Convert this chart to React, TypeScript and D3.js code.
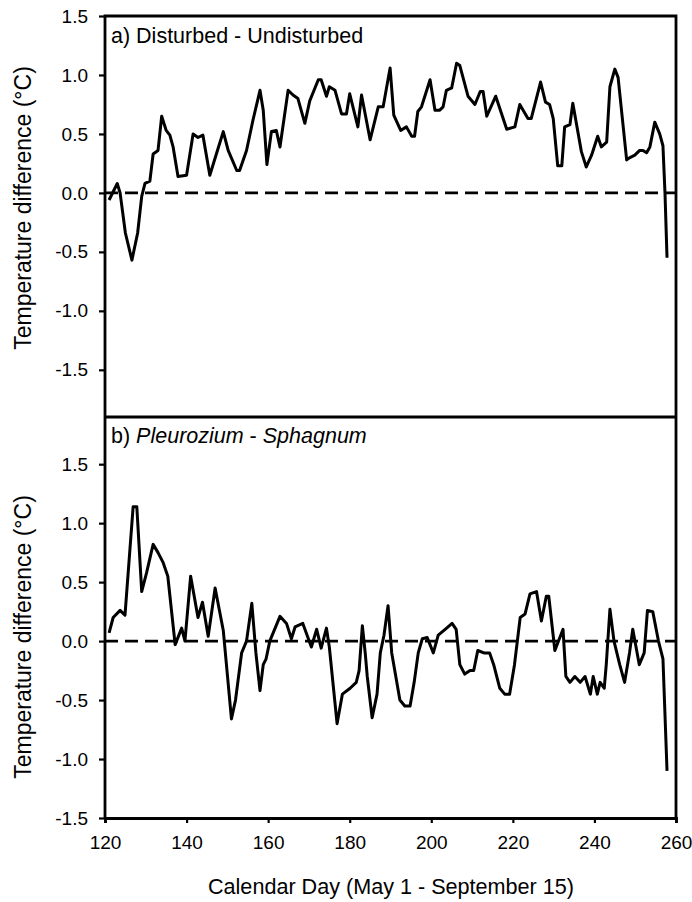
import { useEffect, useRef } from 'react'
import * as d3 from 'd3'

// Panel a) Disturbed - Undisturbed
const daysA = [121, 123, 123.7, 125, 126.6, 128, 129, 129.8, 131, 131.8, 133, 133.9, 135, 135.9, 136.7, 137.9, 140, 141.6, 142.8, 144, 145.7, 147.4, 149, 150.2, 152.3, 153, 154.7, 156.3, 158, 158.8, 159.7, 160.8, 162, 162.9, 164.9, 166.1, 167.3, 169, 170.2, 172.3, 173, 174.3, 175, 176.4, 178, 179.2, 180, 182, 182.9, 185, 187, 188.2, 189.9, 190.8, 192.5, 193.9, 195.2, 195.9, 196.7, 197.6, 199.7, 200.9, 202, 202.9, 203.7, 205, 206.2, 207, 209, 210.7, 212, 212.7, 213.6, 215.8, 218.5, 220.5, 221.7, 223.7, 224.5, 226.8, 228, 229, 229.9, 231, 232, 232.7, 234, 234.7, 236.8, 238, 239.3, 240.8, 241.7, 243, 243.8, 245, 245.8, 247.9, 248.7, 249.9, 251.1, 251.9, 252.8, 253.6, 254.8, 256, 256.8, 257.3, 257.8]
const diffA = [-0.06, 0.08, 0.0, -0.34, -0.57, -0.34, -0.03, 0.08, 0.1, 0.33, 0.36, 0.65, 0.53, 0.49, 0.39, 0.14, 0.15, 0.5, 0.47, 0.49, 0.15, 0.34, 0.52, 0.36, 0.19, 0.19, 0.36, 0.62, 0.87, 0.7, 0.24, 0.52, 0.53, 0.39, 0.87, 0.83, 0.8, 0.59, 0.78, 0.96, 0.96, 0.82, 0.9, 0.87, 0.67, 0.67, 0.84, 0.56, 0.83, 0.45, 0.73, 0.73, 1.06, 0.66, 0.53, 0.56, 0.48, 0.48, 0.69, 0.73, 0.96, 0.7, 0.7, 0.73, 0.87, 0.89, 1.1, 1.08, 0.82, 0.75, 0.86, 0.86, 0.65, 0.82, 0.54, 0.56, 0.75, 0.63, 0.63, 0.94, 0.77, 0.75, 0.63, 0.23, 0.23, 0.56, 0.58, 0.76, 0.35, 0.22, 0.32, 0.48, 0.39, 0.43, 0.9, 1.05, 0.98, 0.28, 0.3, 0.32, 0.36, 0.36, 0.34, 0.39, 0.6, 0.5, 0.4, 0.0, -0.55]

// Panel b) Pleurozium - Sphagnum
const daysB = [121, 122, 123.7, 124.9, 126.9, 127.8, 129, 130.2, 131.8, 133, 134.2, 135.4, 137.2, 138.8, 139.6, 141, 142.8, 143.9, 145.3, 147, 149, 151, 152, 153.5, 154.7, 156, 157, 158, 158.8, 159.5, 160.4, 162.9, 164.5, 165.7, 166.6, 168.5, 170.6, 171.9, 173, 174.3, 175, 176.9, 178.2, 180.1, 181.6, 182.3, 183.1, 183.8, 184.3, 185.5, 186.7, 187.5, 188.4, 189.4, 190.3, 192.3, 193.5, 194.8, 195.8, 196.8, 197.8, 199, 200.5, 201.7, 203.4, 205.1, 206.1, 207, 208.2, 209.5, 210.4, 211.4, 212.9, 214.3, 215.3, 216.8, 218, 219.2, 220.4, 221.8, 223, 224.2, 225.8, 227, 228.2, 228.8, 230.3, 232.3, 233, 234, 235.2, 236.5, 237.7, 239, 239.7, 240.7, 241.4, 242.4, 242.9, 243.8, 244.8, 246.2, 247.4, 248.6, 249.4, 251, 252.2, 253, 254.3, 255.7, 256.8, 257.8]
const diffB = [0.07, 0.2, 0.26, 0.22, 1.14, 1.14, 0.42, 0.58, 0.82, 0.75, 0.67, 0.55, -0.03, 0.11, 0.0, 0.55, 0.2, 0.33, 0.04, 0.45, 0.09, -0.66, -0.5, -0.1, 0.0, 0.32, -0.1, -0.42, -0.2, -0.15, 0.0, 0.21, 0.15, 0.02, 0.12, 0.15, -0.05, 0.1, -0.06, 0.11, -0.05, -0.7, -0.45, -0.4, -0.35, -0.25, 0.13, -0.1, -0.3, -0.65, -0.45, -0.1, 0.05, 0.3, -0.1, -0.5, -0.55, -0.55, -0.35, -0.1, 0.02, 0.03, -0.1, 0.05, 0.1, 0.15, 0.1, -0.2, -0.28, -0.25, -0.25, -0.08, -0.1, -0.1, -0.2, -0.4, -0.45, -0.45, -0.2, 0.2, 0.23, 0.4, 0.42, 0.17, 0.38, 0.38, -0.08, 0.1, -0.3, -0.35, -0.3, -0.35, -0.3, -0.45, -0.3, -0.45, -0.35, -0.4, -0.2, 0.27, 0.0, -0.2, -0.35, -0.1, 0.1, -0.2, -0.1, 0.26, 0.25, 0.0, -0.15, -1.1]

const yTicks = [-1.5, -1.0, -0.5, 0.0, 0.5, 1.0, 1.5]
const xTicks = [120, 140, 160, 180, 200, 220, 240, 260]

const FONT = '"Liberation Sans", Arial, sans-serif'

export default function App() {
  const svgRef = useRef<SVGSVGElement>(null)

  useEffect(() => {
    if (!svgRef.current) return
    const svg = d3.select(svgRef.current)
    svg.selectAll('*').remove()

    const left = 105
    const right = 676
    const top = 16
    const mid = 417
    const bottom = 818

    const x = d3.scaleLinear().domain([120, 260]).range([left, right])
    const yA = d3.scaleLinear().domain([-1.9, 1.5]).range([mid, top])
    const yB = d3.scaleLinear().domain([-1.5, 1.9]).range([bottom, mid])

    const panels = [
      { y: yA, days: daysA, vals: diffA, titleY: 208 },
      { y: yB, days: daysB, vals: diffB, titleY: 637 }
    ]

    panels.forEach(p => {
      // zero reference line
      svg.append('line')
        .attr('x1', left).attr('x2', right)
        .attr('y1', p.y(0)).attr('y2', p.y(0))
        .attr('stroke', '#000')
        .attr('stroke-width', 2.8)
        .attr('stroke-dasharray', '13,7')

      const line = d3.line<number>()
        .x((_, i) => x(p.days[i]))
        .y(d => p.y(d))

      svg.append('path')
        .datum(p.vals)
        .attr('d', line)
        .attr('fill', 'none')
        .attr('stroke', '#000')
        .attr('stroke-width', 3)
        .attr('stroke-linejoin', 'round')

      const ax = svg.append('g')
        .attr('transform', `translate(${left},0)`)
        .call(d3.axisLeft(p.y).tickValues(yTicks).tickSize(6).tickPadding(11).tickFormat(d => (+d).toFixed(1)))
      ax.select('.domain').remove()
      ax.selectAll('line').attr('stroke-width', 2.2)
      ax.selectAll('text').attr('font-family', FONT).attr('font-size', 19).attr('fill', '#000')

      svg.append('text')
        .attr('transform', `translate(31,${p.titleY}) rotate(-90)`)
        .attr('text-anchor', 'middle')
        .attr('font-family', FONT)
        .attr('font-size', 23)
        .text('Temperature difference (°C)')
    })

    // frame
    const frame = svg.append('g').attr('fill', 'none').attr('stroke', '#000').attr('stroke-width', 2.8)
    frame.append('path').attr('d', `M${left},${bottom}V${top}H${right}V${bottom}`)
    frame.append('line').attr('x1', left).attr('x2', right).attr('y1', mid).attr('y2', mid)

    const xa = svg.append('g')
      .attr('transform', `translate(0,${bottom})`)
      .call(d3.axisBottom(x).tickValues(xTicks).tickSize(5).tickPadding(13).tickFormat(d => String(d)))
    xa.select('.domain').attr('stroke-width', 2.8)
    xa.selectAll('line').attr('stroke-width', 2.2)
    xa.selectAll('text').attr('font-family', FONT).attr('font-size', 19).attr('fill', '#000')

    svg.append('text')
      .attr('x', 391)
      .attr('y', 894)
      .attr('text-anchor', 'middle')
      .attr('font-family', FONT)
      .attr('font-size', 21.6)
      .text('Calendar Day (May 1 - September 15)')

    // panel labels
    svg.append('text')
      .attr('x', 111).attr('y', 43)
      .attr('font-family', FONT).attr('font-size', 21.5)
      .text('a) Disturbed - Undisturbed')

    const lb = svg.append('text')
      .attr('x', 111).attr('y', 443)
      .attr('font-family', FONT).attr('font-size', 21.5)
    lb.append('tspan').text('b) ')
    lb.append('tspan').attr('font-style', 'italic').text('Pleurozium')
    lb.append('tspan').text(' - ')
    lb.append('tspan').attr('font-style', 'italic').text('Sphagnum')
  }, [])

  return (
    <svg
      ref={svgRef}
      width={692}
      height={902}
      style={{ position: 'absolute', left: 0, top: 0, background: '#fff' }}
    />
  )
}
